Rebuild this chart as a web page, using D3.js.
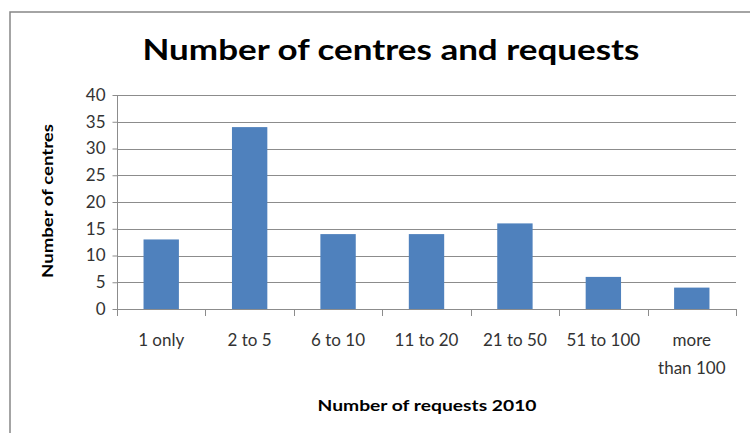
<!DOCTYPE html>
<html>
<head>
<meta charset="utf-8">
<script src="https://cdn.jsdelivr.net/npm/d3@7"></script>
<style>
  html, body { margin: 0; padding: 0; background: #fff; }
  svg { display: block; }
  text { font-family: Lato, "Open Sans", sans-serif; }
</style>
</head>
<body>
<script>
// Centres grouped by how many requests they handled in 2010
const categories = ["1 only", "2 to 5", "6 to 10", "11 to 20", "21 to 50", "51 to 100", "more than 100"];
const centres = [13, 34, 14, 14, 16, 6, 4];
const yTicks = [0, 5, 10, 15, 20, 25, 30, 35, 40];

const W = 750, H = 433;
const plot = { left: 117, right: 736, top: 95, bottom: 309 };

const svg = d3.select("body").append("svg")
  .attr("width", W).attr("height", H);

// outer chart frame
svg.append("rect")
  .attr("x", 10).attr("y", 12)
  .attr("width", 760).attr("height", 440)
  .attr("fill", "#fff")
  .attr("stroke", "#868686").attr("stroke-width", 1.5);

const x = d3.scaleBand().domain(categories)
  .range([plot.left, plot.right]).padding(0);
const y = d3.scaleLinear().domain([0, 40])
  .range([plot.bottom, plot.top]);

// horizontal gridlines
svg.append("g").selectAll("line").data(yTicks.filter(d => d > 0)).join("line")
  .attr("x1", plot.left).attr("x2", plot.right)
  .attr("y1", d => Math.round(y(d)) + 0.5).attr("y2", d => Math.round(y(d)) + 0.5)
  .attr("stroke", "#8c8c8c").attr("stroke-width", 1);

// bars
const barW = x.bandwidth() / 2.5;
svg.append("g").selectAll("rect").data(categories).join("rect")
  .attr("x", (d) => x(d) + (x.bandwidth() - barW) / 2)
  .attr("y", (d, i) => y(centres[i]))
  .attr("width", barW)
  .attr("height", (d, i) => y(0) - y(centres[i]))
  .attr("fill", "#4f81bd");

// y axis
const yAxis = svg.append("g")
  .attr("transform", `translate(${plot.left + 0.5},0)`)
  .call(d3.axisLeft(y).tickValues(yTicks).tickSize(5).tickPadding(7));
yAxis.select(".domain").attr("stroke", "#8c8c8c").attr("d", `M0,${plot.top}V${plot.bottom + 7}`);
yAxis.selectAll(".tick line").attr("stroke", "#8c8c8c");
yAxis.selectAll(".tick text")
  .attr("font-size", 17).attr("fill", "#333")
  .style("font-family", "Lato, 'Open Sans', sans-serif");

// x axis: baseline plus tick marks on the category boundaries
const xg = svg.append("g");
xg.append("line")
  .attr("x1", plot.left).attr("x2", plot.right)
  .attr("y1", plot.bottom + 0.5).attr("y2", plot.bottom + 0.5)
  .attr("stroke", "#8c8c8c");
const bounds = categories.map(c => x(c)).concat([plot.right]);
xg.selectAll("line.tick").data(bounds).join("line")
  .attr("class", "tick")
  .attr("x1", d => Math.round(d) + 0.5).attr("x2", d => Math.round(d) + 0.5)
  .attr("y1", plot.bottom).attr("y2", plot.bottom + 7)
  .attr("stroke", "#8c8c8c");

// category labels (wrapped where the label is long)
const labelLines = c => c === "more than 100" ? ["more", "than 100"] : [c];
xg.selectAll("text.cat").data(categories).join("text")
  .attr("class", "cat")
  .attr("x", d => x(d) + x.bandwidth() / 2)
  .attr("y", 346)
  .attr("text-anchor", "middle")
  .attr("font-size", 17).attr("fill", "#333")
  .each(function (d) {
    const t = d3.select(this);
    labelLines(d).forEach((ln, i) => {
      t.append("tspan")
        .attr("x", x(d) + x.bandwidth() / 2)
        .attr("dy", i === 0 ? 0 : 28)
        .text(ln);
    });
  });

// titles
svg.append("text")
  .attr("x", 391).attr("y", 60)
  .attr("text-anchor", "middle")
  .attr("font-size", 28).attr("font-weight", "bold").attr("fill", "#000")
  .attr("textLength", 497).attr("lengthAdjust", "spacingAndGlyphs")
  .text("Number of centres and requests");

svg.append("text")
  .attr("x", 427).attr("y", 411)
  .attr("text-anchor", "middle")
  .attr("font-size", 15).attr("font-weight", "bold").attr("fill", "#000")
  .attr("textLength", 219).attr("lengthAdjust", "spacingAndGlyphs")
  .text("Number of requests 2010");

svg.append("text")
  .attr("transform", "translate(53,201) rotate(-90)")
  .attr("text-anchor", "middle")
  .attr("font-size", 15).attr("font-weight", "bold").attr("fill", "#000")
  .attr("textLength", 154).attr("lengthAdjust", "spacingAndGlyphs")
  .text("Number of centres");
</script>
</body>
</html>
